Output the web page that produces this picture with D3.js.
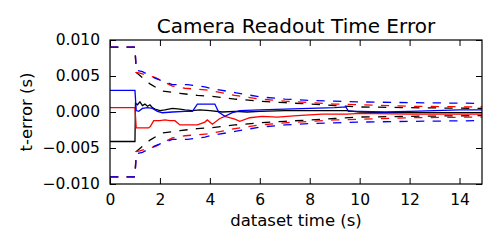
<!DOCTYPE html>
<html>
<head>
<meta charset="utf-8">
<script src="https://cdn.jsdelivr.net/npm/d3@7"></script>
<style>
  body { margin: 0; background: #fff; }
  svg { font-family: "DejaVu Sans", sans-serif; }
</style>
</head>
<body>
<svg width="500" height="250"></svg>
<script>
const width = 500, height = 250;
const margin = {top: 40, right: 18, bottom: 66, left: 110};
const plotW = width - margin.left - margin.right,
      plotH = height - margin.top - margin.bottom;

// estimates: [time (s), error (s)]
const blackEst = [[0,-0.0041],[1.0,-0.0041],[1.02,0.0012],[1.1,0.0010],[1.2,0.0014],[1.3,0.0009],[1.4,0.0011],[1.5,0.0008],[1.6,0.0010],[1.7,0.0006],[1.8,0.0004],[2.0,0.0002],[2.2,0.0003],[2.5,0.0005],[2.8,0.0004],[3.0,0.0003],[3.3,0.0002],[3.6,0.0003],[4.0,0.0002],[4.5,0.0000],[5.0,0.0001],[5.5,0.0000],[6.0,0.0001],[7,0.0002],[8,0.0002],[9,0.0002],[9.5,0.0002],[10,0.0000],[11,-0.0001],[12,-0.0001],[13,-0.0001],[14.9,-0.0001]];
const redEst = [[0,0.0006],[1.0,0.0006],[1.05,-0.0022],[1.55,-0.0022],[1.62,-0.0020],[1.75,-0.0012],[2.0,-0.0012],[2.2,-0.0011],[2.4,-0.0012],[2.6,-0.0012],[2.8,-0.0018],[3.5,-0.0018],[3.8,-0.0014],[3.9,-0.0011],[4.1,-0.0017],[4.4,-0.0009],[4.6,-0.0006],[5.0,-0.0010],[5.2,-0.0013],[5.6,-0.0008],[6.1,-0.0006],[6.7,-0.0007],[7.5,-0.0005],[8.0,-0.0004],[8.5,-0.0003],[9.5,-0.0003],[10,-0.0002],[12,-0.0003],[14.9,-0.0003]];
const blueEst = [[0,0.0030],[1.0,0.0030],[1.05,0.0002],[1.15,0.0001],[1.3,0.0005],[1.5,0.0006],[1.7,0.0005],[1.9,0.0001],[2.1,-0.0001],[2.5,0.0000],[3.0,0.0001],[3.3,0.0001],[3.5,0.0011],[4.2,0.0011],[4.35,0.0000],[4.6,-0.0006],[4.9,-0.0001],[5.2,0.0002],[6,0.0003],[7,0.0004],[8,0.0005],[9,0.0006],[9.45,0.0007],[9.55,0.0001],[10,0.0001],[11,0.0000],[12,0.0001],[13,0.0002],[14,0.0003],[14.9,0.0003]];

// error bounds (drawn as +/-): [time (s), bound (s)]
const blackSig = [[0,0.009],[1.0,0.009],[1.05,0.0055],[1.6,0.0039],[2.1,0.0029],[2.8,0.0026],[3.5,0.0023],[4,0.0022],[5,0.0018],[6,0.0015],[7,0.0013],[8,0.0011],[9,0.0009],[10,0.0007],[12,0.0006],[14.9,0.0005]];
const redSig = [[0,0.009],[1.0,0.009],[1.05,0.0055],[1.2,0.0054],[1.8,0.0048],[2.5,0.0036],[3,0.0033],[3.7,0.0031],[4,0.0030],[5,0.0023],[6,0.0018],[7,0.0015],[8,0.0013],[9,0.0011],[10,0.0010],[12,0.0008],[14.9,0.0007]];
const blueSig = [[0,0.009],[1.0,0.009],[1.05,0.0058],[1.3,0.0056],[1.8,0.0047],[2.5,0.0038],[3.1,0.0038],[3.8,0.0035],[4,0.0033],[5,0.0027],[6,0.0021],[7,0.0018],[8,0.0016],[9,0.0015],[10,0.0014],[12,0.0013],[14.9,0.0012]];

const xTicks = [0, 2, 4, 6, 8, 10, 12, 14];
const yTicks = [-0.010, -0.005, 0.000, 0.005, 0.010];

const svg = d3.select("svg");
const g = svg.append("g").attr("transform", `translate(${margin.left}, ${margin.top})`);

const x = d3.scaleLinear().domain([0, 14.9]).range([0, plotW]);
const y = d3.scaleLinear().domain([-0.010, 0.010]).range([plotH, 0]);

const line = d3.line().x(d => x(d[0])).y(d => y(d[1]));
const lw = 1.3;

const series = [
  {est: blackEst, sig: blackSig, color: "#000000"},
  {est: redEst, sig: redSig, color: "#ff0000"},
  {est: blueEst, sig: blueSig, color: "#0000ff"}
];

const plot = g.append("g");
series.forEach(s => {
  plot.append("path").attr("d", line(s.est))
    .attr("fill", "none").attr("stroke", s.color).attr("stroke-width", lw);
  [1, -1].forEach(sign => {
    plot.append("path").attr("d", line(s.sig.map(d => [d[0], sign * d[1]])))
      .attr("fill", "none").attr("stroke", s.color).attr("stroke-width", lw)
      .attr("stroke-dasharray", "8.3,8.3");
  });
});

// axes: ticks inside on all four sides
const fmt = d => d === 0 ? "0.000" : d3.format(".3f")(d).replace("-", "\u2212");
const tl = 6;
g.append("g").attr("transform", `translate(0, ${plotH})`)
  .call(d3.axisBottom(x).tickValues(xTicks).tickSizeInner(-tl).tickSizeOuter(0).tickPadding(10).tickFormat(d3.format("d")));
g.append("g")
  .call(d3.axisTop(x).tickValues(xTicks).tickSizeInner(-tl).tickSizeOuter(0).tickFormat(""));
g.append("g")
  .call(d3.axisLeft(y).tickValues(yTicks).tickSizeInner(-tl).tickSizeOuter(0).tickPadding(10).tickFormat(fmt));
g.append("g").attr("transform", `translate(${plotW}, 0)`)
  .call(d3.axisRight(y).tickValues(yTicks).tickSizeInner(-tl).tickSizeOuter(0).tickFormat(""));

g.selectAll(".domain").remove();
g.selectAll(".tick line").attr("stroke", "#000").attr("stroke-width", 1);
g.selectAll(".tick text").attr("font-size", "15.5px").attr("fill", "#000")
  .attr("font-family", "DejaVu Sans");

g.append("rect").attr("width", plotW).attr("height", plotH)
  .attr("fill", "none").attr("stroke", "#000").attr("stroke-width", 1.2);

// labels
svg.append("text").attr("x", margin.left + plotW / 2).attr("y", 33)
  .attr("text-anchor", "middle").attr("font-size", "20px").text("Camera Readout Time Error");
svg.append("text").attr("x", margin.left + plotW / 2).attr("y", 226)
  .attr("text-anchor", "middle").attr("font-size", "16.5px").text("dataset time (s)");
svg.append("text").attr("transform", `translate(32, ${margin.top + plotH / 2}) rotate(-90)`)
  .attr("text-anchor", "middle").attr("font-size", "16.5px").text("t-error (s)");
</script>
</body>
</html>
